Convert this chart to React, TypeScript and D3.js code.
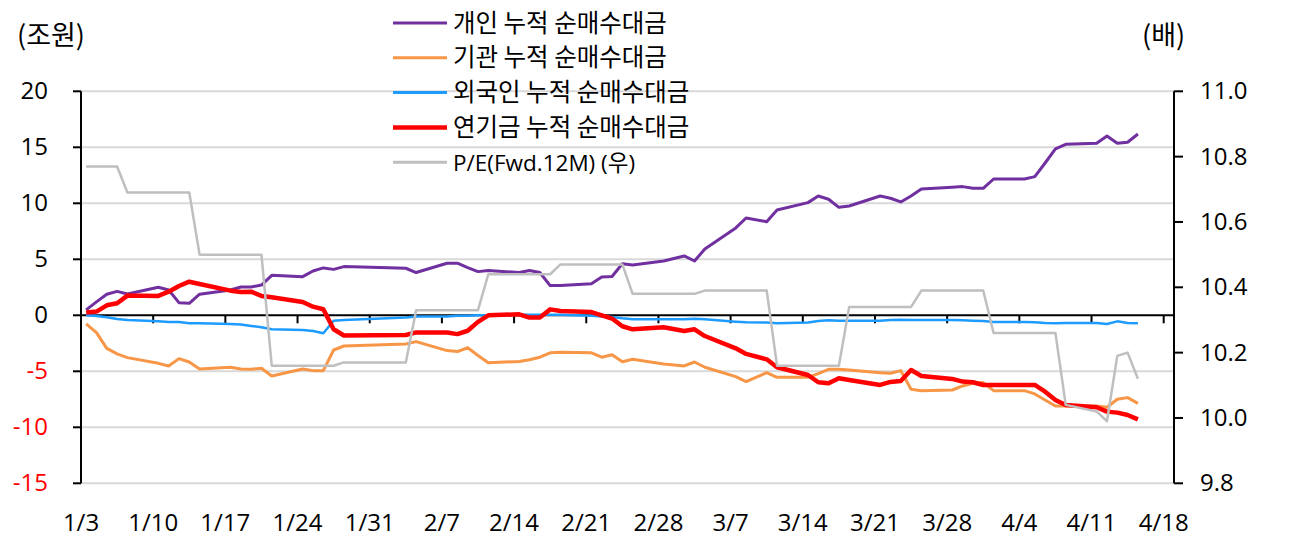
import { line, scaleLinear, scaleUtc, utcFormat, utcMonday } from 'd3'

const W = 1289
const H = 537
const M = { left: 81, right: 1174, top: 91.3, bottom: 483.3 }
const FONT = '"Open Sans", "Noto Sans CJK KR", sans-serif'
const KR = '"Noto Sans CJK KR", "Open Sans", sans-serif'

// 2022 trading days (M/D)
const dates = [
  '1/3', '1/4', '1/5', '1/6', '1/7', '1/10', '1/11', '1/12', '1/13', '1/14',
  '1/17', '1/18', '1/19', '1/20', '1/21', '1/24', '1/25', '1/26', '1/27', '1/28',
  '2/3', '2/4', '2/7', '2/8', '2/9', '2/10', '2/11', '2/14', '2/15', '2/16',
  '2/17', '2/18', '2/21', '2/22', '2/23', '2/24', '2/25', '2/28',
  '3/2', '3/3', '3/4', '3/7', '3/8', '3/10', '3/11', '3/14', '3/15', '3/16',
  '3/17', '3/18', '3/21', '3/22', '3/23', '3/24', '3/25', '3/28', '3/29', '3/30', '3/31',
  '4/1', '4/4', '4/5', '4/6', '4/7', '4/8', '4/11', '4/12', '4/13', '4/14', '4/15',
]

const individual = [
  0.48, 1.2, 1.88, 2.14, 1.9, 2.5, 2.26, 1.13, 1.07, 1.88,
  2.26, 2.53, 2.53, 2.7, 3.57, 3.45, 3.96, 4.23, 4.1, 4.35,
  4.2, 3.82, 4.65, 4.65, 4.26, 3.9, 4.0, 3.82, 4.0, 3.82,
  2.65, 2.65, 2.82, 3.41, 3.47, 4.6, 4.5, 4.85,
  5.3, 4.85, 5.92, 7.8, 8.69, 8.36, 9.4, 10.06, 10.65, 10.36,
  9.64, 9.76, 10.65, 10.45, 10.12, 10.65, 11.28, 11.43, 11.49, 11.34, 11.34,
  12.17, 12.17, 12.38, 13.6, 14.85, 15.27, 15.36, 16.01, 15.36, 15.45, 16.19,
]

const institution = [
  -0.77, -1.55, -2.95, -3.45, -3.78, -4.29, -4.52, -3.87, -4.17, -4.79,
  -4.64, -4.79, -4.82, -4.73, -5.42, -4.79, -4.94, -4.94, -3.1, -2.74,
  -2.56, -2.35, -3.15, -3.24, -2.9, -3.59, -4.24, -4.12, -3.97, -3.74,
  -3.35, -3.29, -3.35, -3.74, -3.53, -4.15, -3.93, -4.35,
  -4.52, -4.17, -4.64, -5.48, -5.92, -5.12, -5.54, -5.54, -5.2, -4.82,
  -4.82, -4.88, -5.12, -5.18, -4.94, -6.6, -6.73, -6.67, -6.31, -6.07, -6.01,
  -6.73, -6.73, -7.02, -7.56, -8.1, -8.1, -8.1, -8.21, -7.5, -7.35, -7.86,
]

const foreign = [
  0, -0.06, -0.18, -0.33, -0.42, -0.54, -0.6, -0.6, -0.71, -0.71,
  -0.77, -0.83, -0.95, -1.07, -1.25, -1.31, -1.4, -1.61, -0.48, -0.42,
  -0.2, -0.1, -0.1, -0.05, -0.05, 0, 0, 0.05, 0.05, 0.05,
  0.05, 0.05, -0.05, -0.1, -0.15, -0.27, -0.36, -0.36,
  -0.36, -0.3, -0.36, -0.57, -0.63, -0.65, -0.71, -0.65, -0.5, -0.45,
  -0.48, -0.48, -0.48, -0.42, -0.39, -0.42, -0.42, -0.42, -0.45, -0.48, -0.5,
  -0.6, -0.6, -0.62, -0.68, -0.71, -0.68, -0.68, -0.77, -0.54, -0.68, -0.71,
]

const pension = [
  0.24, 0.33, 0.89, 1.07, 1.76, 1.73, 2.11, 2.62, 3.0, 2.8,
  2.2, 2.08, 2.11, 1.73, 1.61, 1.19, 0.77, 0.54, -1.25, -1.8,
  -1.76, -1.53, -1.53, -1.68, -1.38, -0.59, 0, 0.09, -0.2, -0.2,
  0.53, 0.38, 0.29, 0, -0.29, -0.98, -1.25, -1.07,
  -1.4, -1.25, -1.85, -2.95, -3.45, -3.93, -4.64, -5.33, -5.98, -6.07,
  -5.62, -5.77, -6.22, -5.95, -5.86, -4.88, -5.42, -5.68, -5.92, -5.98, -6.22,
  -6.22, -6.22, -6.22, -6.82, -7.56, -8.01, -8.21, -8.6, -8.69, -8.9, -9.29,
]

const pe = [
  10.77, 10.77, 10.77, 10.77, 10.69, 10.69, 10.69, 10.69, 10.69, 10.5,
  10.5, 10.5, 10.5, 10.5, 10.16, 10.16, 10.16, 10.16, 10.16, 10.17,
  10.17, 10.33, 10.33, 10.33, 10.33, 10.33, 10.44, 10.44, 10.44, 10.44,
  10.44, 10.47, 10.47, 10.47, 10.47, 10.47, 10.38, 10.38,
  10.38, 10.38, 10.39, 10.39, 10.39, 10.39, 10.16, 10.16, 10.16, 10.16,
  10.16, 10.34, 10.34, 10.34, 10.34, 10.34, 10.39, 10.39, 10.39, 10.39, 10.39,
  10.26, 10.26, 10.26, 10.26, 10.26, 10.04, 10.02, 9.99, 10.19, 10.2, 10.12,
]

const leftTicks = [-15, -10, -5, 0, 5, 10, 15, 20]
const rightTicks = [9.8, 10.0, 10.2, 10.4, 10.6, 10.8, 11.0]

const series = [
  { name: '개인 누적 순매수대금', values: individual, color: '#7030A0', width: 3 },
  { name: '기관 누적 순매수대금', values: institution, color: '#F79646', width: 3 },
  { name: '외국인 누적 순매수대금', values: foreign, color: '#1E9BFF', width: 2.5 },
  { name: '연기금 누적 순매수대금', values: pension, color: '#FF0000', width: 4.5 },
]
const peSeries = { name: 'P/E(Fwd.12M) (우)', values: pe, color: '#BFBFBF', width: 2.5 }

const toDate = (md: string) => {
  const [m, d] = md.split('/').map(Number)
  return new Date(Date.UTC(2022, m - 1, d, 12))
}

export default function App() {
  const x = scaleUtc()
    .domain([new Date(Date.UTC(2022, 0, 3)), new Date(Date.UTC(2022, 3, 19))])
    .range([M.left, M.right])
  const yL = scaleLinear().domain([-15, 20]).range([M.bottom, M.top])
  const yR = scaleLinear().domain([9.8, 11.0]).range([M.bottom, M.top])
  const xs = dates.map(toDate)
  const weekTicks = utcMonday.range(new Date(Date.UTC(2022, 0, 3)), new Date(Date.UTC(2022, 3, 19)))
  const fmt = utcFormat('%-m/%-d')
  const y0 = yL(0)

  const pathL = line<number>()
    .x((_, i) => x(xs[i]))
    .y((v) => yL(v))
  const pathR = line<number>()
    .x((_, i) => x(xs[i]))
    .y((v) => yR(v))

  const legend = [...series, peSeries]

  return (
    <svg
      width={W}
      height={H}
      style={{ position: 'absolute', left: 0, top: 0, background: '#fff' }}
      fontFamily={FONT}
    >
      {/* gridlines */}
      {leftTicks
        .filter((t) => t !== 0)
        .map((t) => (
          <line key={t} x1={M.left} x2={M.right} y1={yL(t)} y2={yL(t)} stroke="#D9D9D9" strokeWidth={2} />
        ))}

      {/* legend */}
      {legend.map((s, i) => {
        const cy = 23 + i * 34.8
        return (
          <g key={s.name}>
            <line x1={393} x2={447} y1={cy} y2={cy} stroke={s.color} strokeWidth={s.width === 4.5 ? 4.5 : 3} />
            <text
              x={453}
              y={cy + 8.5}
              fontSize={i === 4 ? 22.5 : 24.5}
              fontFamily={i === 4 ? FONT : KR}
              fill="#000"
            >
              {s.name}
            </text>
          </g>
        )
      })}

      {/* axes */}
      <line x1={M.left} x2={M.left} y1={M.top} y2={M.bottom} stroke="#000" strokeWidth={2} />
      <line x1={M.right} x2={M.right} y1={M.top} y2={M.bottom} stroke="#000" strokeWidth={2} />
      <line x1={M.left} x2={M.right} y1={y0} y2={y0} stroke="#000" strokeWidth={2} />
      {leftTicks.map((t) => (
        <g key={t}>
          <line x1={M.left - 8} x2={M.left} y1={yL(t)} y2={yL(t)} stroke="#000" strokeWidth={2} />
          <text x={48} y={yL(t) + 8} textAnchor="end" fontSize={24} fill={t < 0 ? '#FF0000' : '#000'}>
            {t}
          </text>
        </g>
      ))}
      {rightTicks.map((t) => (
        <g key={t}>
          <line x1={M.right} x2={M.right + 9} y1={yR(t)} y2={yR(t)} stroke="#000" strokeWidth={2} />
          <text x={1200} y={yR(t) + 8} fontSize={24} fill="#000">
            {t.toFixed(1)}
          </text>
        </g>
      ))}
      {weekTicks.map((d) => (
        <g key={d.getTime()}>
          <line x1={x(d)} x2={x(d)} y1={y0} y2={y0 + 8} stroke="#000" strokeWidth={2} />
          <text x={x(d)} y={531} textAnchor="middle" fontSize={24} fill="#000">
            {fmt(d)}
          </text>
        </g>
      ))}
      <text x={17} y={45} fontSize={27} fontFamily={KR} fill="#000">(조원)</text>
      <text x={1142} y={45} fontSize={27} fontFamily={KR} fill="#000">(배)</text>

      {/* series */}
      {series.map((s) => (
        <path
          key={s.name}
          d={pathL(s.values) ?? ''}
          fill="none"
          stroke={s.color}
          strokeWidth={s.width}
          strokeLinejoin="round"
        />
      ))}
      <path
        d={pathR(peSeries.values) ?? ''}
        fill="none"
        stroke={peSeries.color}
        strokeWidth={peSeries.width}
        strokeLinejoin="round"
      />
    </svg>
  )
}
